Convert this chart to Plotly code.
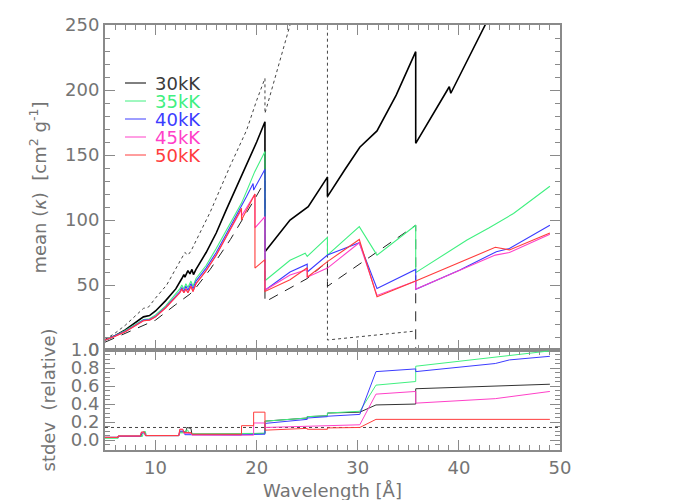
import plotly.graph_objects as go

# ---------------- data ----------------
labels = ["30kK", "35kK", "40kK", "45kK", "50kK"]

# mean opacity, top panel
wl_30 = [5, 6, 7, 8, 8.8, 9.4, 10, 11, 12, 12.6, 12.8, 12.9, 13.2, 13.4, 13.6, 13.75, 14, 15, 16, 17, 18, 19, 20, 20.82,
         20.82, 23.3, 25.1, 27.0, 27.0, 28.7, 30.2, 31.9, 33.8, 35.73, 35.73, 39.05, 39.2, 42.6, 49]
kap_30 = [7.7, 11, 15.5, 21, 25.5, 26.5, 30, 38, 47, 55, 58, 56, 61, 58.5, 62, 58, 62, 75, 90, 108, 125, 143, 160, 175.6,
          75.6, 100, 110.3, 133, 118, 138.5, 156, 168.5, 196, 229.5, 159, 202.5, 197.5, 250, 349]

wl_35 = [5, 6, 7, 8, 8.8, 9.4, 10, 11, 12, 12.4, 12.6, 12.8, 13.0, 13.2, 13.5, 13.7, 14, 15, 16, 17, 18, 18.5, 19, 19.8, 20.82,
         20.82, 23.3, 24.8, 25.0, 27.0, 27.0, 30.15, 31.9, 35.73, 35.73, 40.8, 43, 45.4, 49]
kap_35 = [7.7, 11, 15, 19.5, 23.5, 24, 27, 34, 43, 47, 50, 47, 51, 48, 53, 49, 55, 65, 78, 92, 106, 113, 122, 137, 152.6,
          53.3, 69, 74.4, 72, 86.7, 73, 94.9, 73, 96, 59.5, 84.6, 94, 105, 126]

wl_40 = [5, 6, 7, 8, 8.8, 9.4, 10, 11, 12, 12.4, 12.6, 12.8, 13.0, 13.2, 13.5, 13.7, 14, 15, 16, 17, 18, 18.5, 19, 19.65, 19.7,
         20.82, 20.82, 23.3, 25.0, 25.0, 27.0, 30.15, 31.9, 35.73, 35.73, 40.1, 43.7, 45, 49]
kap_40 = [7.7, 11, 14.5, 19, 23, 23.5, 26, 33, 42, 45, 48, 45, 49, 46, 51, 47, 53, 63, 75, 89, 103, 110, 118, 128, 123,
          139, 46, 60, 66, 60, 73, 82.5, 47.4, 62, 46.7, 61.5, 75.6, 78, 96]

wl_45 = [5, 6, 7, 8, 8.8, 9.4, 10, 11, 12, 12.4, 12.6, 12.8, 13.0, 13.2, 13.5, 13.7, 14, 15, 16, 17, 18, 18.5, 18.5, 19.83,
         19.83, 20.82, 20.82, 23.3, 25.0, 25.0, 27.0, 30.15, 31.9, 35.73, 35.73, 43.6, 45, 49]
kap_45 = [7.7, 10.5, 14, 18.5, 22.5, 23, 25.5, 32.5, 41, 44, 47, 44, 47, 44, 49, 45, 51, 61, 73, 87, 101, 108, 103, 120,
          94, 102.6, 46, 57.7, 62, 56, 63, 82.5, 42, 53, 46.7, 73, 75, 89]

wl_50 = [5, 6, 7, 8, 8.8, 9.4, 10, 11, 12, 12.4, 12.6, 12.8, 13.0, 13.2, 13.5, 13.7, 14, 15, 16, 17, 18, 18.5, 18.5, 19.83,
         19.83, 20.82, 20.82, 23.3, 25.0, 25.0, 27.0, 30.15, 31.9, 35.73, 43.6, 45, 49]
kap_50 = [7.7, 10.5, 14, 18.5, 22.5, 23, 25.5, 32.5, 41, 44, 47, 44, 47, 44, 49, 45, 51, 61, 73, 87, 101, 109, 100, 120,
          63, 69.5, 45, 54, 63.3, 56, 68, 85, 41, 53, 79, 77, 90]

wl_dash = [5, 8, 10, 12, 13.4, 14, 15.4, 17.4, 18.5, 19.8, 20.82, 20.82, 25.0, 27.0, 27.0, 35.73, 35.73]
kap_dash = [6, 16, 23, 35, 43, 48, 62, 85, 99, 116, 130, 37, 55, 68, 49, 96, 0]

wl_dot = [5, 6, 7, 8, 8.8, 9.3, 10, 11.1, 12, 12.9, 13.2, 13.5, 14, 15.4, 17.4, 19, 20, 20.82, 20.82, 23.3, 27.0, 27.0, 35.73]
kap_dot = [8, 13, 19, 26, 32, 33, 40, 50, 62, 75, 73, 76, 84, 106, 142, 169, 192, 209, 182, 250, 320, 7.7, 14.6]

# relative stdev, bottom panel
sw_30 = [5, 6.3, 6.3, 8.55, 8.7, 9.0, 9.05, 12.3, 12.4, 13.0, 13.1, 13.5, 13.6, 18.5, 18.5, 20.82, 20.82, 25.0, 25.0, 27.0,
         27.0, 30.2, 31.8, 35.73, 35.73, 49]
sd_30 = [0.03, 0.03, 0.045, 0.045, 0.085, 0.085, 0.05, 0.05, 0.09, 0.09, 0.14, 0.13, 0.065, 0.065, 0.07, 0.075, 0.21, 0.245,
         0.26, 0.27, 0.30, 0.31, 0.39, 0.40, 0.57, 0.62]

sw_35 = [5, 6.3, 6.3, 8.7, 8.8, 9.0, 9.05, 12.3, 12.4, 13.0, 13.0, 13.2, 13.3, 18.5, 18.5, 20.82, 20.82, 25.0, 25.0, 27.0,
         27.0, 30.2, 31.8, 35.73, 35.73, 49]
sd_35 = [0.02, 0.02, 0.04, 0.04, 0.095, 0.095, 0.05, 0.05, 0.08, 0.08, 0.11, 0.11, 0.07, 0.07, 0.075, 0.075, 0.21, 0.245,
         0.26, 0.27, 0.30, 0.32, 0.61, 0.65, 0.82, 0.99]

sw_40 = [5, 6.3, 6.3, 8.5, 8.6, 8.9, 9.0, 12.3, 12.4, 12.8, 12.9, 18.5, 18.5, 20.82, 20.82, 25.0, 25.0, 27.0, 27.0, 30.2,
         31.8, 35.73, 35.73, 43.6, 45, 49]
sd_40 = [0.03, 0.03, 0.04, 0.04, 0.08, 0.08, 0.05, 0.05, 0.10, 0.10, 0.06, 0.055, 0.06, 0.065, 0.185, 0.23, 0.245, 0.26,
         0.265, 0.285, 0.76, 0.79, 0.76, 0.85, 0.89, 0.93]

sw_45 = [5, 6.3, 6.3, 8.5, 8.6, 8.9, 9.0, 12.3, 12.4, 12.7, 12.8, 13.5, 13.6, 19.7, 19.7, 20.82, 20.82, 25.0, 30.2, 31.8,
         35.73, 35.73, 43.6, 49]
sd_45 = [0.03, 0.03, 0.045, 0.045, 0.085, 0.085, 0.05, 0.05, 0.12, 0.12, 0.075, 0.075, 0.055, 0.055, 0.19, 0.19, 0.14,
         0.155, 0.17, 0.51, 0.54, 0.41, 0.46, 0.54]

sw_50 = [5, 6.3, 6.3, 8.5, 8.6, 8.9, 9.0, 12.3, 12.4, 12.7, 12.8, 13.5, 13.6, 18.5, 18.5, 19.7, 19.7, 20.82, 20.82, 25.0,
         25.0, 27.0, 27.0, 30.2, 31.8, 49]
sd_50 = [0.03, 0.03, 0.045, 0.045, 0.09, 0.09, 0.05, 0.05, 0.12, 0.12, 0.085, 0.085, 0.065, 0.065, 0.16, 0.16, 0.31, 0.31,
         0.11, 0.13, 0.12, 0.12, 0.135, 0.14, 0.23, 0.23]

sw_ref = [5, 50]
sd_ref = [0.14, 0.14]

# ---------------- styling ----------------
colors = ["#000000", "#40f080", "#3c3cff", "#ff40c8", "#ff3c3c"]
legend_text_colors = ["#3a3a3a", "#40f080", "#3c3cff", "#ff40c8", "#ff3c3c"]
widths = [1.6, 1.1, 1.1, 1.1, 1.1]
grey = "#747474"
axis_grey = "#8a8a8a"
FONT = "DejaVu Sans"
FS = 18

top_x = [wl_30, wl_35, wl_40, wl_45, wl_50]
top_y = [kap_30, kap_35, kap_40, kap_45, kap_50]
bot_x = [sw_30, sw_35, sw_40, sw_45, sw_50]
bot_y = [sd_30, sd_35, sd_40, sd_45, sd_50]

fig = go.Figure()

fig.add_trace(go.Scatter(x=wl_dot, y=kap_dot, mode="lines", xaxis="x", yaxis="y",
                         line=dict(color="#444444", width=1, dash="dot"), showlegend=False))
fig.add_trace(go.Scatter(x=wl_dash, y=kap_dash, mode="lines", xaxis="x", yaxis="y",
                         line=dict(color="#222222", width=1, dash="10px,8px"), showlegend=False))

for i in range(5):
    fig.add_trace(go.Scatter(
        x=top_x[i], y=top_y[i], mode="lines", xaxis="x", yaxis="y",
        line=dict(color=colors[i], width=widths[i]),
        name=labels[i], showlegend=False))

fig.add_trace(go.Scatter(x=sw_ref, y=sd_ref, mode="lines", xaxis="x2", yaxis="y2",
                         line=dict(color="#444444", width=1, dash="dot"), showlegend=False))
for i in range(5):
    fig.add_trace(go.Scatter(
        x=bot_x[i], y=bot_y[i], mode="lines", xaxis="x2", yaxis="y2",
        line=dict(color=colors[i] if i else "#333333", width=1), name=labels[i], showlegend=False))

# page body has an 8px margin; plot area should sit at x 105..560, y 25..450
PLOT_L, PLOT_T, PLOT_W, PLOT_H = 105, 25, 455, 425
OFF = 8
split = 100.0 / PLOT_H

# legend drawn as short line samples + coloured labels (tight IDL-style spacing)
leg_rows = [83, 101, 119, 137, 155]
shapes = []
annotations = []
for i, py in enumerate(leg_rows):
    yp = (PLOT_T + PLOT_H - py) / PLOT_H
    shapes.append(dict(type="line", xref="paper", yref="paper",
                       x0=(125 - PLOT_L) / PLOT_W, x1=(146 - PLOT_L) / PLOT_W, y0=yp, y1=yp,
                       line=dict(color=colors[i], width=1)))
    annotations.append(dict(text=labels[i], xref="paper", yref="paper",
                            x=(153 - PLOT_L) / PLOT_W, y=yp, xanchor="left", yanchor="middle",
                            showarrow=False, font=dict(family=FONT, size=FS, color=legend_text_colors[i])))

common_axis = dict(
    showline=True, linecolor=axis_grey, linewidth=2, mirror="allticks",
    ticks="inside", ticklen=10, tickcolor=axis_grey, tickwidth=1,
    showgrid=False, zeroline=False,
    tickfont=dict(family=FONT, size=FS, color=grey),
)

fig.update_layout(
    width=700, height=500,
    margin=dict(l=PLOT_L - OFF, r=700 - (PLOT_L - OFF) - PLOT_W, t=PLOT_T - OFF,
                b=500 - (PLOT_T - OFF) - PLOT_H, autoexpand=False),
    paper_bgcolor="white", plot_bgcolor="white",
    font=dict(family=FONT, size=FS, color=grey),
    showlegend=False,
    shapes=shapes,
    annotations=annotations,
    xaxis=dict(common_axis, domain=[0, 1], anchor="y", range=[5, 50], dtick=10, tick0=0,
               showticklabels=False,
               minor=dict(dtick=1, ticklen=5, ticks="inside", tickcolor=axis_grey, showgrid=False)),
    yaxis=dict(common_axis, domain=[split, 1], anchor="x", range=[0, 250], dtick=50, tick0=0,
               minor=dict(dtick=10, ticklen=5, ticks="inside", tickcolor=axis_grey, showgrid=False),
               title=dict(text="mean (<i>κ</i>)  [cm<sup>2</sup> g<sup>-1</sup>]",
                          font=dict(family=FONT, size=FS, color=grey), standoff=14)),
    xaxis2=dict(common_axis, domain=[0, 1], anchor="y2", range=[5, 50], dtick=10, tick0=0,
                matches="x",
                minor=dict(dtick=1, ticklen=5, ticks="inside", tickcolor=axis_grey, showgrid=False),
                title=dict(text="Wavelength [Å]", font=dict(family=FONT, size=FS, color=grey), standoff=8)),
    yaxis2=dict(common_axis, domain=[0, split], anchor="x2", range=[-0.11, 1.0], dtick=0.2, tick0=0,
                tickformat=".1f",
                minor=dict(dtick=0.05, ticklen=5, ticks="inside", tickcolor=axis_grey, showgrid=False),
                title=dict(text="stdev  (relative)", font=dict(family=FONT, size=FS, color=grey), standoff=10)),
)

fig.write_html("out.html")
